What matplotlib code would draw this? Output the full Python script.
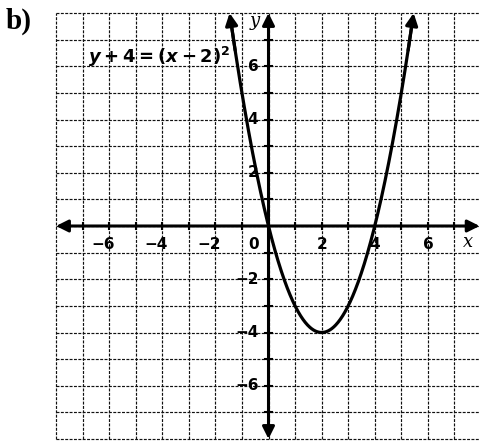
import numpy as np
import matplotlib
matplotlib.use("Agg")
import matplotlib.pyplot as plt

plt.rcParams['mathtext.fontset'] = 'custom'
plt.rcParams['mathtext.rm'] = 'DejaVu Sans:bold'
plt.rcParams['mathtext.it'] = 'DejaVu Sans:italic:bold'
plt.rcParams['mathtext.bf'] = 'DejaVu Sans:bold'

# graph of y + 4 = (x - 2)^2
h, k = 2, -4
grid_min, grid_max = -8, 8
y_top = 8  # the curve runs off the top of the grid

x_tick_vals = [-6, -4, -2, 2, 4, 6]
y_tick_vals = [6, 4, 2, -2, -4, -6]
equation = r'$y + 4 = (x - 2)^2$'
panel_label = 'b)'

fig = plt.figure(figsize=(4.79, 4.41), dpi=100)
ax = fig.add_axes([56 / 479, 2 / 441, 425 / 479, 426 / 441])
ax.set_xlim(grid_min, grid_max)
ax.set_ylim(grid_min, grid_max)
ax.axis('off')

# dotted grid
for v in range(grid_min, grid_max + 1):
    ax.plot([v, v], [grid_min, grid_max], color='#111111', lw=0.85,
            ls=(0, (2.5, 1.2)), clip_on=False, zorder=1)
    ax.plot([grid_min, grid_max], [v, v], color='#111111', lw=0.85,
            ls=(0, (2.5, 1.2)), clip_on=False, zorder=1)

# axes with arrows
arrow = dict(arrowstyle='<|-|>', color='black', lw=2.2,
             mutation_scale=18, shrinkA=0, shrinkB=0)
ax.annotate('', xy=(7.95, 0), xytext=(grid_min, 0), arrowprops=arrow,
            annotation_clip=False, zorder=3)
ax.annotate('', xy=(0, grid_max), xytext=(0, grid_min), arrowprops=arrow,
            annotation_clip=False, zorder=3)

# tick dots on the axes
for v in range(grid_min + 1, grid_max):
    if v != 0:
        ax.plot([v, v], [-0.12, 0.12], color='black', lw=1.5, zorder=3)
        ax.plot([-0.12, 0.12], [v, v], color='black', lw=1.5, zorder=3)

# parabola
half = np.sqrt(y_top - k)
xs = np.linspace(h - half, h + half, 400)
ys = (xs - h) ** 2 + k
ax.plot(xs[3:-3], ys[3:-3], color='black', lw=2.3, zorder=4,
        solid_capstyle='butt')
head = dict(arrowstyle='-|>', color='black', lw=2.3, mutation_scale=18,
            shrinkA=0, shrinkB=0)
ax.annotate('', xy=(xs[0], ys[0]), xytext=(xs[12], ys[12]),
            arrowprops=head, zorder=4)
ax.annotate('', xy=(xs[-1], ys[-1]), xytext=(xs[-13], ys[-13]),
            arrowprops=head, zorder=4)

# tick labels
lab = dict(fontsize=11, fontweight='bold', color='black', zorder=5,
           fontfamily=['Liberation Sans Narrow', 'DejaVu Sans'])
for v in x_tick_vals:
    if v < 0:
        ax.text(v + 0.2, -0.68, '\u2212' + str(-v), ha='right', va='center', **lab)
    else:
        ax.text(v, -0.68, str(v), ha='center', va='center', **lab)
ax.text(-0.55, -0.68, '0', ha='center', va='center', **lab)
for v in y_tick_vals:
    s = str(v) if v > 0 else '\u2212' + str(-v)
    ax.text(-0.38, v, s, ha='right', va='center', **lab)

ax.text(7.5, -0.6, 'x', ha='center', va='center', fontsize=13,
        fontstyle='italic', fontfamily='DejaVu Serif', zorder=5)
ax.text(-0.5, 7.7, 'y', ha='center', va='center', fontsize=13,
        fontstyle='italic', fontfamily='DejaVu Serif', zorder=5)

ax.text(-6.8, 6.35, equation, ha='left', va='center', fontsize=13, zorder=5)

fig.text(6 / 479, 1 - 21 / 441, panel_label, ha='left', va='center',
         fontsize=21, fontweight='bold', fontfamily='Liberation Serif')

fig.savefig('out.png', dpi=100)
